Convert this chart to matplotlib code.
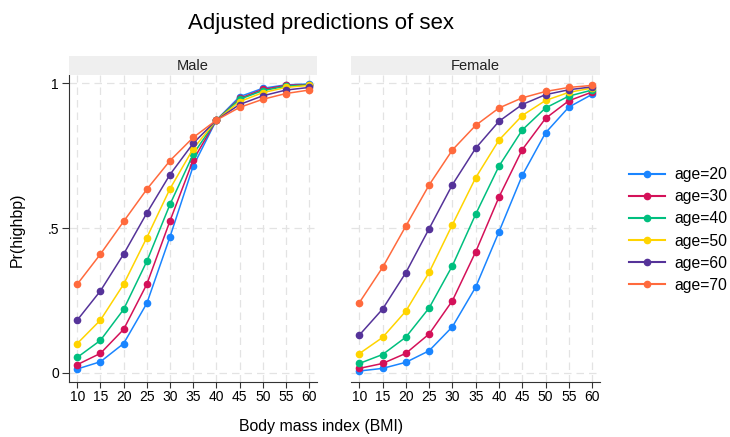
import numpy as np
import matplotlib.pyplot as plt

plt.rcParams['font.family'] = ['Liberation Sans', 'DejaVu Sans']

bmi = [10, 15, 20, 25, 30, 35, 40, 45, 50, 55, 60]
ages = ["age=20", "age=30", "age=40", "age=50", "age=60", "age=70"]
colors = ["#1a85ff", "#d41159", "#00bf7f", "#ffd400", "#553399", "#ff6a3d"]

male_20 = [0.013, 0.038, 0.101, 0.240, 0.470, 0.714, 0.873, 0.954, 0.983, 0.995, 0.998]
male_30 = [0.028, 0.067, 0.150, 0.306, 0.525, 0.735, 0.873, 0.948, 0.979, 0.993, 0.996]
male_40 = [0.053, 0.112, 0.219, 0.385, 0.582, 0.755, 0.873, 0.945, 0.975, 0.990, 0.995]
male_50 = [0.101, 0.182, 0.306, 0.467, 0.636, 0.774, 0.873, 0.937, 0.968, 0.986, 0.993]
male_60 = [0.182, 0.283, 0.410, 0.552, 0.685, 0.793, 0.873, 0.927, 0.957, 0.977, 0.986]
male_70 = [0.306, 0.410, 0.523, 0.634, 0.733, 0.813, 0.873, 0.917, 0.945, 0.965, 0.977]

female_20 = [0.006, 0.015, 0.036, 0.076, 0.159, 0.296, 0.487, 0.682, 0.829, 0.918, 0.962]
female_30 = [0.015, 0.032, 0.067, 0.134, 0.249, 0.418, 0.607, 0.771, 0.879, 0.940, 0.970]
female_40 = [0.032, 0.063, 0.123, 0.224, 0.370, 0.548, 0.714, 0.839, 0.915, 0.956, 0.977]
female_50 = [0.066, 0.122, 0.213, 0.347, 0.512, 0.674, 0.804, 0.889, 0.941, 0.969, 0.984]
female_60 = [0.130, 0.220, 0.346, 0.498, 0.650, 0.776, 0.869, 0.927, 0.961, 0.978, 0.988]
female_70 = [0.242, 0.364, 0.507, 0.649, 0.770, 0.855, 0.915, 0.950, 0.972, 0.986, 0.993]

male = [male_20, male_30, male_40, male_50, male_60, male_70]
female = [female_20, female_30, female_40, female_50, female_60, female_70]

fig = plt.figure(figsize=(7.3, 4.37), dpi=100)
W, H = 730, 437

def panel(left, right, title, series, show_y):
    ax = fig.add_axes([left / W, 1 - 381.7 / H, (right - left) / W, (381.7 - 75) / H])
    strip = fig.add_axes([left / W, 1 - 75 / H, (right - left) / W, 19 / H])
    strip.set_facecolor("#efefef")
    strip.set_xticks([])
    strip.set_yticks([])
    for s in strip.spines.values():
        s.set_visible(False)
    strip.text(0.5, 0.45, title, ha="center", va="center", fontsize=10.5, color="#222222")

    for vals, c, lab in zip(series, colors, ages):
        ax.plot(bmi, vals, "-o", color=c, lw=1.1, ms=4.5, label=lab)

    ax.set_xlim(8.15, 61.7)
    ax.set_ylim(-0.031, 1.029)
    ax.set_xticks(bmi)
    ax.set_yticks([0, 0.5, 1])
    ax.set_yticklabels(["0", ".5", "1"])
    ax.grid(True, color="#e3e3e3", ls=(0, (6, 4)), lw=0.9)
    ax.set_axisbelow(True)
    ax.spines["top"].set_visible(False)
    ax.spines["right"].set_visible(False)
    ax.spines["bottom"].set_color("#333333")
    ax.spines["left"].set_color("#333333")
    ax.tick_params(axis="x", labelsize=10, length=4, pad=2, color="#333333")
    if show_y:
        ax.tick_params(axis="y", labelsize=10, length=5, pad=2, color="#333333")
    else:
        ax.spines["left"].set_visible(False)
        ax.tick_params(axis="y", left=False, labelleft=False)
    return ax

ax1 = panel(68.7, 317, "Male", male, True)
ax2 = panel(350.7, 600, "Female", female, False)

fig.text(321 / W, 1 - 24 / H, "Adjusted predictions of sex", ha="center", va="center", fontsize=16)
fig.text(321 / W, 1 - 427 / H, "Body mass index (BMI)", ha="center", va="center", fontsize=11.4)
fig.text(17 / W, 1 - 230 / H, "Pr(highbp)", ha="center", va="center", rotation=90, fontsize=11.4)

handles, labels = ax1.get_legend_handles_labels()
leg = fig.legend(handles, labels, loc="center left", bbox_to_anchor=(629 / W, 1 - 230 / H),
                 frameon=False, fontsize=11.3, handlelength=2.3, handletextpad=0.6,
                 labelspacing=0.45, borderpad=0, borderaxespad=0)
for line in leg.get_lines():
    line.set_linewidth(1.5)

fig.savefig("out.png", dpi=100)
